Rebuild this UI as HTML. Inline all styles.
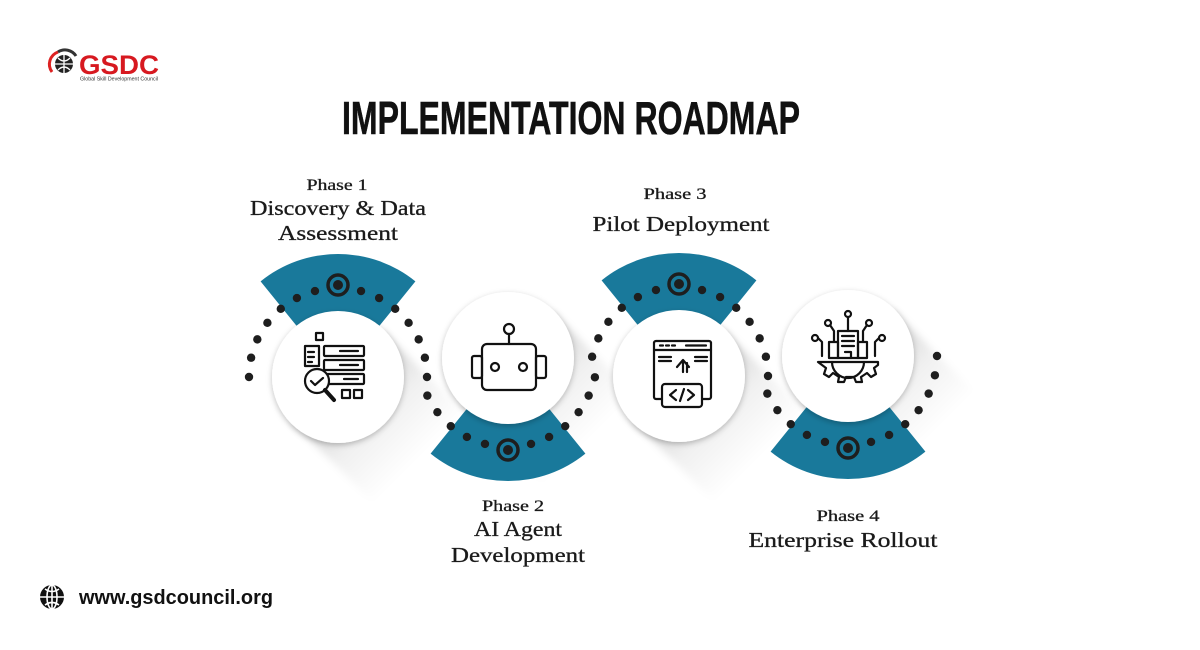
<!DOCTYPE html>
<html><head><meta charset="utf-8"><style>
html,body{margin:0;padding:0;background:#fff;}
svg{display:block;}
.s{font-family:"Liberation Serif","DejaVu Serif",serif;fill:#1a1a1a;text-anchor:middle;}
</style></head><body>
<svg id="sv" width="1200" height="650" viewBox="0 0 1200 650" xmlns="http://www.w3.org/2000/svg">
<defs>
<linearGradient id="sh" x1="0" y1="0" x2="0" y2="1">
<stop offset="0" stop-color="#000" stop-opacity="0.2"/>
<stop offset="0.5" stop-color="#000" stop-opacity="0.06"/>
<stop offset="1" stop-color="#000" stop-opacity="0"/>
</linearGradient>
<filter id="ds" x="-30%" y="-30%" width="160%" height="160%"><feDropShadow dx="0" dy="2" stdDeviation="3" flood-opacity="0.25"/></filter>
<filter id="bl"><feGaussianBlur stdDeviation="4"/></filter>
</defs>

<!-- logo -->
<g>
<circle cx="64" cy="64" r="9" fill="#222"/>
<path d="M55 64h18M64 55v18M58 58q6 6 12 0M58 70q6-6 12 0" stroke="#fff" stroke-width="1.3" fill="none"/>
<path d="M52 72a13 13 0 0 1 6-20" stroke="#d22" stroke-width="3" fill="none"/>
<path d="M58 52a13 13 0 0 1 18 4" stroke="#333" stroke-width="3" fill="none"/>
<text x="79" y="74" font-family="Liberation Sans,sans-serif" font-weight="bold" font-size="27" fill="#d71920" textLength="80" lengthAdjust="spacingAndGlyphs">GSDC</text>
<text x="80" y="80.5" font-family="Liberation Sans,sans-serif" font-size="5.5" fill="#333" textLength="78" lengthAdjust="spacingAndGlyphs">Global Skill Development Council</text>
</g>

<text x="342" y="134" font-family="Liberation Sans Narrow,Liberation Sans,sans-serif" font-weight="bold" font-size="46" fill="#111" stroke="#111" stroke-width="0.6" textLength="458" lengthAdjust="spacingAndGlyphs">IMPLEMENTATION ROADMAP</text>

<g id="shadows" filter="url(#bl)"></g>
<g id="wedges" fill="#19799b"></g>
<g id="dots" fill="#1e1e1e"></g>
<g id="circles"></g>

<!-- icons -->
<g stroke="#111" stroke-width="2.2" fill="none" stroke-linejoin="round" stroke-linecap="round">
 <rect x="316" y="333" width="7" height="7"/>
 <rect x="305" y="346" width="14" height="20"/>
 <path d="M308 352h6M308 357h6M308 362h4"/>
 <rect x="324" y="346" width="40" height="10" rx="1"/>
 <rect x="324" y="360" width="40" height="10" rx="1"/>
 <rect x="324" y="374" width="40" height="10" rx="1"/>
 <path d="M340 351h18M340 365h18M344 379h14"/>
 <circle cx="317" cy="381" r="12" fill="#fff"/>
 <path d="M311 381l4 4 8-7"/>
 <path d="M325 390l9 10" stroke-width="4"/>
 <rect x="342" y="390" width="8" height="8"/><rect x="354" y="390" width="8" height="8"/>
 <circle cx="509" cy="329" r="5"/><path d="M509 334v10"/>
 <rect x="482" y="344" width="54" height="46" rx="5"/>
 <rect x="472" y="356" width="10" height="22" rx="2"/><rect x="536" y="356" width="10" height="22" rx="2"/>
 <circle cx="495" cy="367" r="4"/><circle cx="523" cy="367" r="4"/>
 <rect x="654" y="341" width="57" height="58" rx="2"/>
 <path d="M654 350h57M660 345.5h3M666 345.5h3M672 345.5h3M686 345.5h20M659 357h12M659 361h12M695 357h12M695 361h12"/>
 <path d="M683 372v-12l-6 7M683 360l6 7M687 372v-9"/>
 <rect x="662" y="384" width="40" height="23" rx="3" fill="#fff"/>
 <path d="M676 390l-6 5 6 5M688 390l6 5-6 5M684 389l-4 12"/>
 <rect x="838" y="331" width="20" height="27"/>
 <path d="M842 336h12M842 341h12M842 346h12M845 352h6v6"/>
 <rect x="829" y="342" width="9" height="16"/><rect x="858" y="342" width="9" height="16"/>
 <circle cx="848" cy="314" r="3"/><path d="M848 317v14"/>
 <circle cx="828" cy="323" r="3"/><path d="M830 325l4 6v10"/>
 <circle cx="869" cy="323" r="3"/><path d="M867 325l-4 6v10"/>
 <circle cx="815" cy="338" r="3"/><path d="M818 338l4 4v14"/>
 <circle cx="882" cy="338" r="3"/><path d="M879 338l-4 4v14"/>
 <path d="M818 362h60v3l-4 3 2 6-5 3-4-4-6 4 1 5h-6l-2-5h-8l-2 5h-6l1-5-6-4-4 4-5-3 2-6-4-3z"/>
 <path d="M832 362a16 16 0 0 0 32 0"/>
</g>

<!-- labels -->
<g stroke="#1a1a1a" stroke-width="0.3">
<text class="s" x="337" y="190" font-size="16" textLength="61" lengthAdjust="spacingAndGlyphs">Phase 1</text>
<text class="s" x="338" y="215" font-size="21" textLength="176" lengthAdjust="spacingAndGlyphs">Discovery &amp; Data</text>
<text class="s" x="338" y="240" font-size="21" textLength="120" lengthAdjust="spacingAndGlyphs">Assessment</text>
<text class="s" x="513" y="511" font-size="16" textLength="62" lengthAdjust="spacingAndGlyphs">Phase 2</text>
<text class="s" x="518" y="536" font-size="21" textLength="88" lengthAdjust="spacingAndGlyphs">AI Agent</text>
<text class="s" x="518" y="562" font-size="21" textLength="134" lengthAdjust="spacingAndGlyphs">Development</text>
<text class="s" x="675" y="199" font-size="16" textLength="63" lengthAdjust="spacingAndGlyphs">Phase 3</text>
<text class="s" x="681" y="231" font-size="21" textLength="177" lengthAdjust="spacingAndGlyphs">Pilot Deployment</text>
<text class="s" x="848" y="521" font-size="16" textLength="63" lengthAdjust="spacingAndGlyphs">Phase 4</text>
<text class="s" x="843" y="547" font-size="21" textLength="189" lengthAdjust="spacingAndGlyphs">Enterprise Rollout</text>
</g>

<!-- footer -->
<g>
<circle cx="52" cy="597" r="12" fill="#111"/>
<path d="M40 597h24M52 585v24M45 589q7 5 14 0M45 605q7-5 14 0" stroke="#fff" stroke-width="1.6" fill="none"/>
<ellipse cx="52" cy="597" rx="5" ry="12" stroke="#fff" stroke-width="1.6" fill="none"/>
<text x="79" y="604" font-family="Liberation Sans,sans-serif" font-weight="bold" font-size="20" fill="#111" textLength="194" lengthAdjust="spacingAndGlyphs">www.gsdcouncil.org</text>
</g>
</svg>
<script>
var NS="http://www.w3.org/2000/svg";
function el(t,a,p){var e=document.createElementNS(NS,t);for(var k in a)e.setAttribute(k,a[k]);document.getElementById(p).appendChild(e);return e;}
var C=[[338,377,270,179,372],[508,358,90,156,12],[679,376,270,185,372],[848,356,90,156,-12]];
var R=89;
C.forEach(function(c){
 var cx=c[0],cy=c[1],m=c[2];
 el("rect",{x:-64,y:0,width:128,height:115,fill:"url(#sh)",transform:"translate("+cx+","+cy+") rotate(-45)"},"shadows");
 var a1=(m-39)*Math.PI/180,a2=(m+39)*Math.PI/180,Ro=123,Ri=60;
 var d="M"+(cx+Ro*Math.cos(a1))+" "+(cy+Ro*Math.sin(a1))+" A"+Ro+" "+Ro+" 0 0 1 "+(cx+Ro*Math.cos(a2))+" "+(cy+Ro*Math.sin(a2))+
 " L"+(cx+Ri*Math.cos(a2))+" "+(cy+Ri*Math.sin(a2))+" A"+Ri+" "+Ri+" 0 0 0 "+(cx+Ri*Math.cos(a1))+" "+(cy+Ri*Math.sin(a1))+"Z";
 el("path",{d:d},"wedges");
 var lo=Math.min(c[3],c[4]),hi=Math.max(c[3],c[4]);
 for(var s=-1;s<=1;s+=2){
  for(var k=1;k<20;k++){
   var a=m+s*(15+(k-1)*12.5);
   if(a<lo||a>hi)break;
   var r=a*Math.PI/180;
   el("circle",{cx:cx+R*Math.cos(r),cy:cy+R*Math.sin(r),r:4.2},"dots");
  }
 }
 var my=cy+(m==270?-92:92);
 el("circle",{cx:cx,cy:my,r:10,fill:"none",stroke:"#1e1e1e","stroke-width":3.5},"dots");
 el("circle",{cx:cx,cy:my,r:5},"dots");
 el("circle",{cx:cx,cy:cy,r:66,fill:"#fff",filter:"url(#ds)"},"circles");
});
</script>
</body></html>
